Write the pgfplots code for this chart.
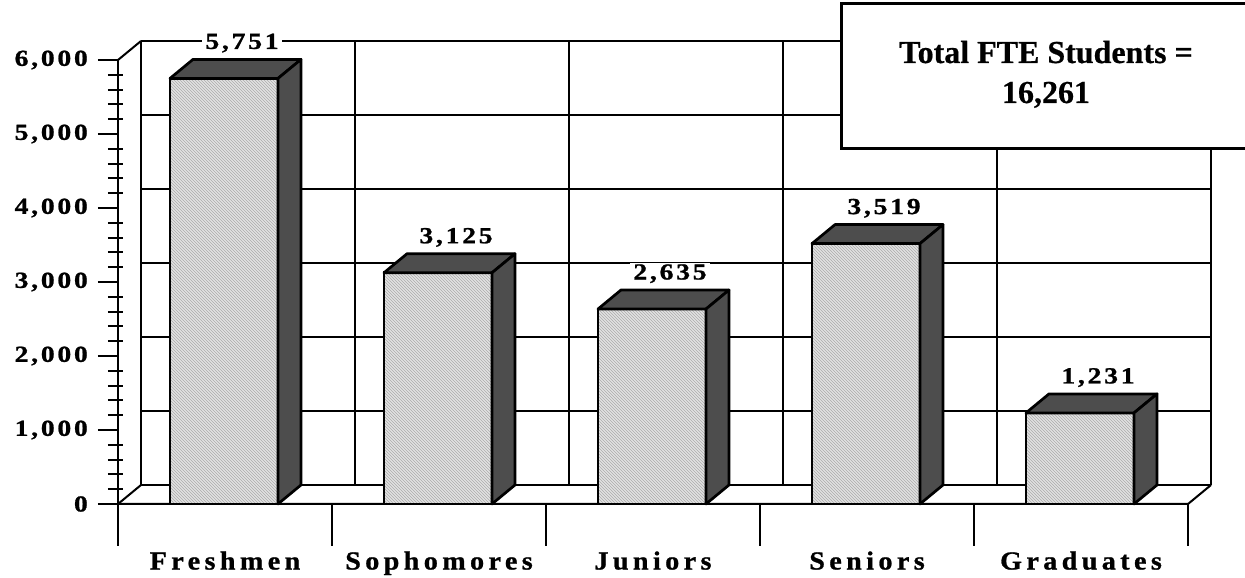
\documentclass[border=0pt]{standalone}
\usepackage{pgfplots}
\pgfplotsset{compat=1.18}
\usepackage{pgfplotstable}
\usepackage{fontspec}
\setmainfont{Liberation Serif}
\newfontfamily\numfont[LetterSpace=12,FakeStretch=1.2,FakeBold=1]{Liberation Serif}
\newfontfamily\catfont[LetterSpace=17,FakeStretch=1.08,FakeBold=1]{Liberation Serif}
\newfontfamily\boxfont[FakeBold=0.6]{Liberation Serif}
\usetikzlibrary{patterns}
\definecolor{darkface}{RGB}{77,77,77}
\definecolor{frontface}{RGB}{226,226,226}

\pgfplotstableread{
x   v    lab
0.5 5751 5,751
1.5 3125 3,125
2.5 2635 2,635
3.5 3519 3,519
4.5 1231 1,231
}\data

\begin{document}
\begin{tikzpicture}
\useasboundingbox (-118pt,-74pt) rectangle (1127pt,504pt);
% walls, floor, axis ticks (pixel coordinates)
\begin{scope}[x=1pt,y=-1pt,shift={(-118pt,504pt)}, line width=2pt]
  \foreach \Y in {485,411,337,263,189,115,41} \draw (141,\Y) -- (1211,\Y);
  \foreach \X in {141,355,569,783,997,1211} \draw (\X,41) -- (\X,485);
  \draw (118,504) -- (141,485);
  \draw (118,60) -- (141,41);
  \draw (118,504) -- (1188,504) -- (1211,485);
  \draw[line width=2.5pt] (118,505) -- (118,60);
  \foreach \k in {0,...,6} \draw (98,504-74*\k) -- (118,504-74*\k);
  \foreach \k in {0,...,5} \foreach \m in {1,...,4} \draw (108,504-74*\k-14.8*\m) -- (123,504-74*\k-14.8*\m);
  \foreach \i in {0,...,5} \draw (118+214*\i,504) -- (118+214*\i,546);
\end{scope}
\begin{axis}[
  at={(0pt,0pt)}, anchor=south west,
  x=214pt, y=0.074pt,
  xmin=0, xmax=5, ymin=0, ymax=6000,
  point meta min=0, point meta max=6000,
  clip=false,
  axis line style={draw=none},
  major tick length=0pt, minor tick length=0pt,
  xtick={0.5,1.5,2.5,3.5,4.5},
  xticklabels={Freshmen,Sophomores,Juniors,Seniors,Graduates},
  ytick={0,1000,...,6000},
  yticklabels={0,{1,000},{2,000},{3,000},{4,000},{5,000},{6,000}},
  xticklabel style={font=\catfont\bfseries\fontsize{26}{26}\selectfont, anchor=base, yshift=-65.5pt, inner sep=0pt},
  yticklabel style={font=\numfont\bfseries\fontsize{23}{23}\selectfont, anchor=east, inner sep=0pt, xshift=-30pt},
]
% front faces
\addplot[ybar, bar width=108pt, bar shift=-1pt, draw=black, line width=2.7pt,
  preaction={fill=frontface}, pattern=north west lines, pattern color=gray!65]
  table[x=x,y=v]{\data};
% top and side faces (height from the point meta, 0..1000 over 0..6000)
\addplot[scatter, only marks, mark=*, mark size=0.01pt, mark options={draw=none,fill=none},
  point meta=y,
  scatter/@pre marker code/.code={%
    \pgfkeys{/pgf/fpu=false}%
    \pgfmathsetmacro\hh{\pgfplotspointmetatransformed*0.444}%
    \filldraw[fill=darkface, draw=black, line width=2.7pt, line join=round]
      (-55pt,0pt) -- (53pt,0pt) -- (76pt,19pt) -- (-32pt,19pt) -- cycle;
    \filldraw[fill=darkface, draw=black, line width=2.7pt, line join=round]
      (53pt,0pt) -- (76pt,19pt) -- (76pt,19pt-\hh pt) -- (53pt,-\hh pt) -- cycle;
  },
  scatter/@post marker code/.code={}]
  table[x=x,y=v]{\data};
% value labels
\addplot[only marks, mark=*, mark size=0.01pt, mark options={draw=none,fill=none},
  nodes near coords, point meta=explicit symbolic,
  every node near coord/.append style={anchor=base, xshift=17pt, yshift=29.5pt,
    font=\numfont\bfseries\fontsize{23}{23}\selectfont, fill=white, text=black,
    inner xsep=3pt, inner ysep=1pt}]
  table[x=x,y=v,meta=lab]{\data};
\end{axis}
\begin{scope}[x=1pt,y=-1pt,shift={(-118pt,504pt)}]
  \draw[line width=3pt, fill=white] (841,4) rectangle (1275,149);
  \node[anchor=base, font=\boxfont\bfseries\fontsize{32}{32}\selectfont, inner sep=0pt] at (1046,63) {Total FTE Students =};
  \node[anchor=base, font=\boxfont\bfseries\fontsize{32}{32}\selectfont, inner sep=0pt] at (1046,103) {16,261};
\end{scope}
\end{tikzpicture}
\end{document}
